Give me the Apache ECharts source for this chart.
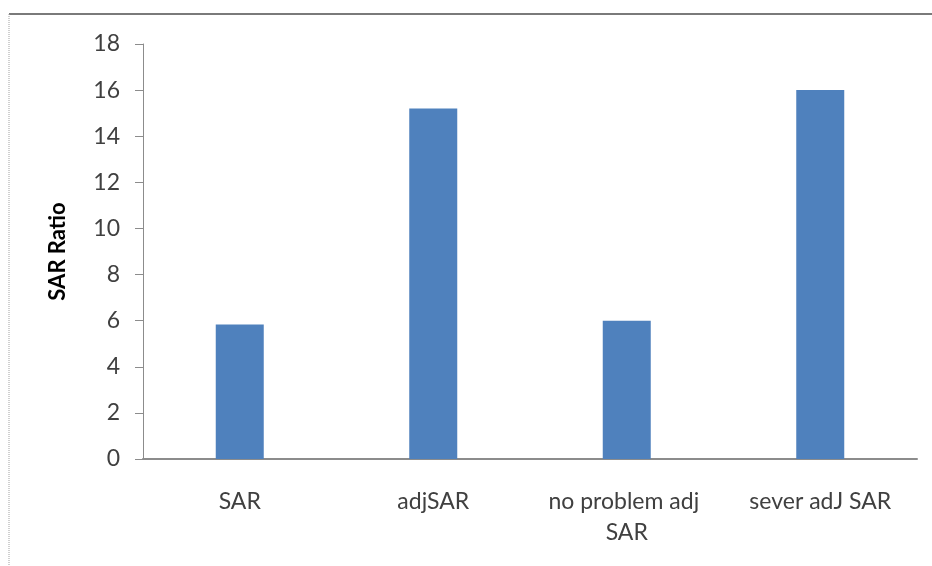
<!DOCTYPE html>
<html>
<head>
<meta charset="utf-8">
<script src="https://cdn.jsdelivr.net/npm/echarts@6/dist/echarts.min.js"></script>
<style>html,body{margin:0;padding:0;background:#fff;}#c{width:932px;height:566px;}</style>
</head>
<body>
<div id="c"></div>
<script>
const categories = ["SAR", "adjSAR", "no problem adj SAR", "sever adJ SAR"];
const values = [5.83, 15.2, 6.0, 16.0];
const yTicks = { min: 0, max: 18, interval: 2 };
const yName = "SAR Ratio";

const chart = echarts.init(document.getElementById('c'));
chart.setOption({
  animation: false,
  backgroundColor: '#ffffff',
  grid: { left: 143, right: 15, top: 44, bottom: 107, containLabel: false },
  graphic: [
    { type: 'line', shape: { x1: 9, y1: 14, x2: 932, y2: 14 }, style: { stroke: '#7a7a7a', lineWidth: 2 } },
    { type: 'line', shape: { x1: 9, y1: 14, x2: 9, y2: 566 }, style: { stroke: '#a0a0a0', lineWidth: 1, lineDash: [1, 1] } }
  ],
  xAxis: {
    type: 'category',
    data: categories,
    axisLine: { lineStyle: { color: '#8c8c8c', width: 2 } },
    axisTick: { show: false },
    axisLabel: {
      color: '#404040', fontFamily: 'Lato', fontSize: 23, margin: 27,
      width: 178, overflow: 'break', lineHeight: 31, interval: 0
    }
  },
  yAxis: {
    type: 'value',
    min: yTicks.min, max: yTicks.max, interval: yTicks.interval,
    name: yName,
    nameLocation: 'middle',
    nameGap: 74,
    nameRotate: 90,
    nameTextStyle: { color: '#000', fontFamily: 'Lato', fontWeight: 'bold', fontSize: 22 },
    axisLine: { show: true, lineStyle: { color: '#8c8c8c', width: 1 } },
    axisTick: { show: true, length: 8, lineStyle: { color: '#8c8c8c' } },
    splitLine: { show: false },
    axisLabel: { color: '#404040', fontFamily: 'Lato', fontSize: 23, margin: 23 }
  },
  series: [{
    type: 'bar',
    data: values,
    barWidth: 48,
    itemStyle: { color: '#4F81BD' }
  }]
});
</script>
</body>
</html>
